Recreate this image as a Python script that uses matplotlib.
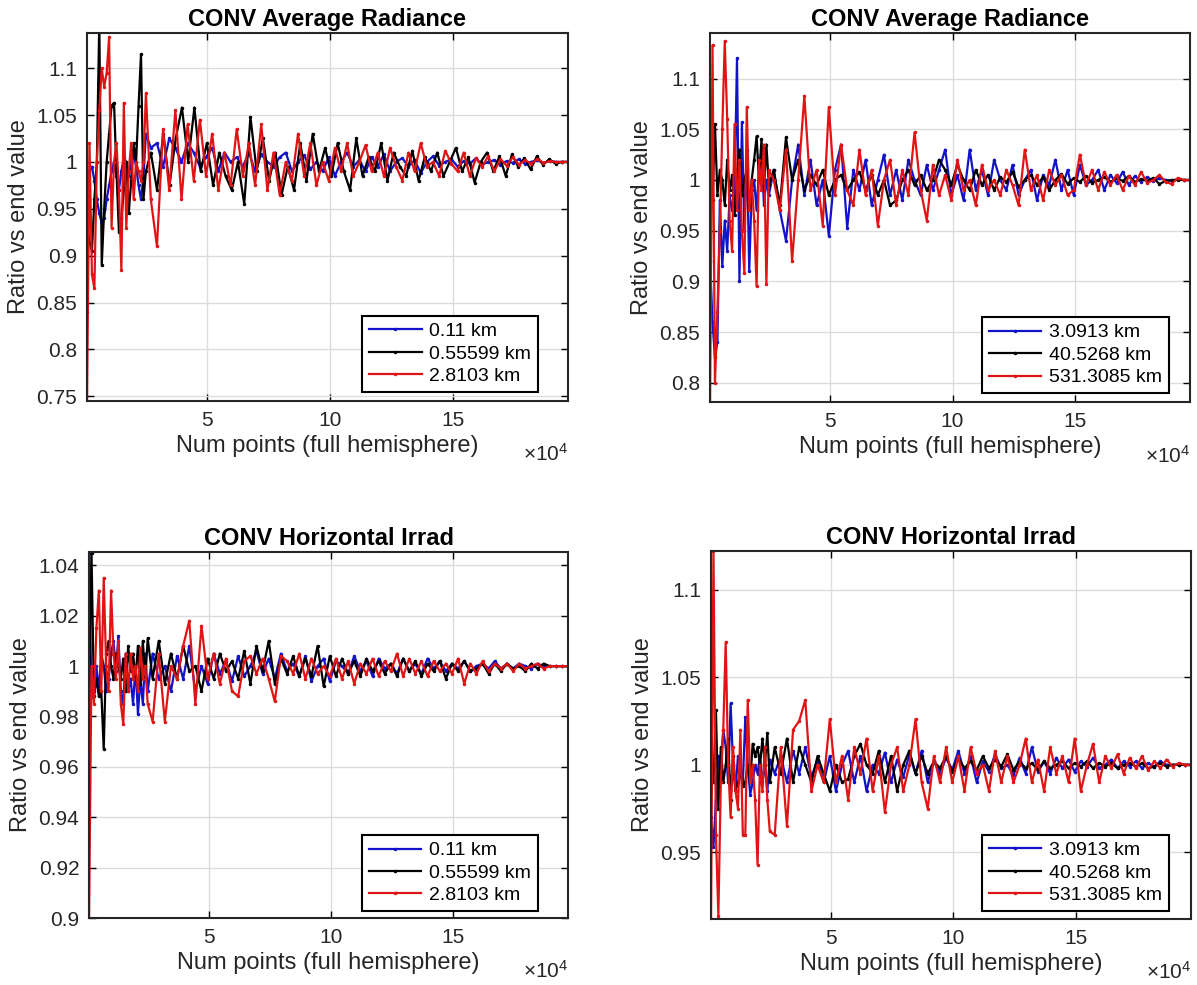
import numpy as np
import matplotlib
matplotlib.use('Agg')
import matplotlib.pyplot as plt

plt.rcParams['font.family'] = ['Liberation Sans', 'DejaVu Sans']
plt.rcParams['mathtext.default'] = 'regular'

# x grid: number of points (full hemisphere)
x_early = np.arange(1000, 25001, 1000)

# ---- top left: CONV Average Radiance, low altitudes ----
tl_labels = ['0.11 km', '0.55599 km', '2.8103 km']
tl_blue = [0.84, 0.99, 0.995, 0.98, 0.96, 0.945, 0.935, 0.94, 0.96, 0.975, 0.99, 1.0, 0.985,
           0.97, 0.99, 1.005, 1.0, 0.985, 1.0, 1.01, 0.995, 0.975, 0.96, 0.985, 1.03,
           1.015, 1.02, 0.995, 1.025, 1.015, 1.0, 1.02, 1.01, 0.995, 1.005, 1.015, 0.99, 1.01, 1.0,
           1.005, 0.995, 1.01, 0.99, 1.008, 1.0, 0.995, 1.005, 1.01, 0.99, 1.0, 1.007, 0.992, 1.0,
           0.99, 1.005, 0.985, 1.0, 1.01, 0.995, 1.002, 0.99, 1.005, 0.995, 1.008, 0.99, 1.0, 1.004,
           0.995, 1.002, 0.988, 1.0, 1.006, 0.996, 1.0, 1.003, 0.995, 1.001, 0.998, 1.004, 0.997, 1.0,
           1.002, 0.997, 1.001, 0.999, 1.003, 0.998, 1.0, 1.002, 0.999, 1.001, 1.0, 1.0, 1.0]
tl_black = [0.93, 0.915, 0.905, 0.96, 1.0, 1.15, 0.89, 0.95, 1.0, 1.03, 1.06, 1.063, 0.99,
            0.925, 0.94, 0.97, 1.0, 0.945, 0.98, 1.02, 1.0, 1.06, 1.115, 0.96, 0.99,
            1.01, 0.97, 1.03, 0.975, 1.025, 1.058, 1.0, 1.058, 0.99, 1.02, 0.975, 1.01, 0.985, 0.97,
            1.0, 0.955, 1.048, 0.99, 1.025, 0.98, 1.01, 0.965, 0.995, 0.97, 1.02, 0.98, 1.03, 0.99,
            1.015, 0.985, 1.02, 0.99, 0.97, 1.025, 0.985, 1.005, 0.99, 1.02, 0.98, 1.01, 0.995, 0.985,
            1.012, 0.98, 1.005, 0.99, 1.01, 0.985, 1.0, 1.015, 0.99, 1.005, 0.978, 1.0, 1.01, 0.99,
            1.006, 0.985, 1.008, 0.995, 1.004, 0.992, 1.006, 0.997, 1.003, 0.998, 1.0, 1.0]
tl_red = [0.745, 1.02, 0.88, 0.865, 1.0, 1.055, 1.1, 1.08, 1.095, 1.133, 0.93, 1.0, 1.02,
          0.97, 0.885, 1.063, 0.93, 0.99, 1.02, 0.96, 1.0, 0.99, 0.98, 1.0, 1.073,
          0.96, 0.91, 1.035, 0.97, 1.055, 0.96, 1.04, 0.98, 1.045, 0.985, 1.03, 0.97, 1.01, 0.975,
          1.035, 0.985, 1.02, 0.975, 1.04, 0.97, 1.01, 0.965, 1.0, 0.98, 1.03, 0.985, 1.02, 0.975,
          1.0, 0.98, 1.015, 0.99, 1.02, 0.985, 1.0, 1.018, 0.99, 1.01, 0.985, 1.015, 0.995, 0.98,
          1.01, 0.99, 1.02, 0.995, 1.0, 0.985, 1.012, 0.998, 0.99, 1.01, 0.985, 1.004, 0.995, 1.006,
          0.99, 1.003, 0.996, 1.005, 0.997, 1.002, 0.998, 1.003, 0.999, 1.001, 1.0, 1.0, 1.0]

# ---- top right: CONV Average Radiance, high altitudes ----
tr_labels = ['3.0913 km', '40.5268 km', '531.3085 km']
tr_blue = [0.92, 0.86, 0.825, 0.84, 0.98, 0.915, 0.96, 0.93, 0.985, 0.97, 0.99, 1.12, 0.90,
           1.057, 0.95, 1.03, 0.91, 0.99, 1.0, 0.97, 1.01, 1.03, 0.975, 1.0, 0.985,
           1.01, 0.97, 0.94, 1.0, 1.035, 0.985, 1.02, 0.975, 1.0, 0.945, 1.01, 1.035, 0.953, 1.01,
           0.99, 1.02, 0.975, 1.0, 1.025, 0.985, 1.01, 0.98, 1.02, 1.0, 0.985, 1.015, 0.99, 1.01,
           1.03, 0.985, 1.005, 0.98, 1.03, 0.99, 1.01, 0.985, 1.02, 1.0, 0.99, 1.015, 0.985, 1.0,
           1.01, 0.98, 1.005, 0.995, 1.02, 0.99, 1.01, 0.985, 1.015, 0.995, 1.0, 1.01, 0.99, 1.005,
           0.997, 1.008, 0.995, 1.004, 0.998, 1.003, 0.999, 1.002, 1.0, 0.999, 1.001, 1.0, 1.0]
tr_black = [1.0, 0.98, 1.055, 0.985, 1.01, 1.0, 0.975, 1.02, 0.99, 1.005, 0.965, 1.0, 1.03,
            0.985, 1.0, 1.01, 0.975, 1.0, 1.02, 1.043, 1.0, 1.04, 0.99, 1.035, 0.995,
            1.01, 0.975, 1.042, 1.0, 1.02, 0.99, 1.005, 0.995, 1.01, 0.985, 1.0, 1.005, 0.99, 1.0,
            1.008, 0.99, 1.005, 0.985, 1.0, 0.975, 0.98, 1.0, 1.01, 0.995, 1.005, 0.99, 1.0, 1.02,
            1.01, 0.995, 1.015, 1.0, 0.99, 1.01, 0.995, 1.005, 0.99, 1.003, 0.998, 1.008, 0.993, 1.0,
            1.005, 0.995, 1.003, 0.99, 1.0, 1.006, 0.996, 1.002, 0.998, 1.004, 0.997, 1.0, 1.003, 0.998,
            1.002, 0.999, 1.004, 0.998, 1.001, 0.999, 1.002, 0.996, 0.999, 1.0, 1.0, 1.0, 1.0]
tr_red = [0.78, 1.133, 0.80, 0.87, 0.95, 1.05, 1.137, 1.06, 0.96, 0.93, 1.055, 0.97, 1.02,
          0.95, 0.908, 1.072, 0.97, 1.0, 0.96, 0.895, 1.02, 0.99, 1.035, 0.897, 1.01,
          1.0, 0.97, 1.03, 0.92, 1.0, 1.083, 0.99, 1.01, 0.955, 1.072, 0.985, 1.035, 0.99, 0.975,
          1.03, 0.985, 1.01, 0.955, 1.0, 1.02, 0.975, 1.01, 0.985, 1.047, 0.99, 0.96, 1.015, 0.985,
          1.005, 0.98, 1.02, 0.99, 1.0, 0.975, 1.015, 0.99, 1.0, 0.985, 1.01, 0.995, 0.975, 1.03,
          0.99, 1.005, 0.98, 1.01, 0.995, 1.005, 0.985, 0.99, 1.025, 0.995, 1.01, 0.99, 1.008, 0.995,
          1.005, 0.99, 1.004, 0.995, 1.008, 0.997, 1.0, 1.005, 0.998, 0.996, 1.002, 1.0, 1.0]

# ---- bottom left: CONV Horizontal Irrad, low altitudes ----
bl_blue = [1.045, 0.988, 0.99, 1.0, 0.99, 1.005, 1.0, 0.99, 0.995, 1.005, 1.01, 0.998, 1.012,
           0.99, 0.985, 1.005, 0.99, 0.995, 0.985, 1.0, 0.981, 0.995, 0.985, 1.005, 0.99,
           1.005, 0.995, 1.0, 0.99, 1.004, 0.995, 1.008, 0.99, 1.0, 0.993, 1.005, 0.997, 1.002, 0.994,
           1.004, 0.996, 1.0, 1.006, 0.997, 1.003, 0.995, 1.005, 0.998, 1.001, 0.996, 1.004, 0.994, 1.0,
           1.003, 0.994, 1.002, 1.0, 0.997, 1.004, 0.998, 1.002, 0.996, 1.003, 0.999, 1.001, 0.997, 1.003,
           0.998, 1.001, 0.997, 1.003, 0.999, 1.002, 0.998, 1.001, 0.999, 1.002, 0.998, 1.0, 1.001, 0.999,
           1.002, 0.999, 1.001, 0.999, 1.001, 1.0, 0.999, 1.001, 1.0, 1.0, 1.0, 1.0, 1.0]
bl_black = [0.99, 1.045, 0.988, 0.995, 0.988, 0.99, 0.967, 1.005, 1.01, 1.0, 0.995, 1.005, 1.0,
            0.995, 1.003, 0.99, 1.008, 0.998, 1.005, 0.995, 1.008, 0.993, 1.01, 0.995, 1.011,
            0.995, 1.01, 0.993, 1.005, 0.995, 1.008, 0.998, 1.0, 0.99, 1.003, 0.995, 1.005, 0.998, 1.002,
            0.995, 1.006, 0.993, 1.008, 0.998, 1.01, 0.993, 1.003, 0.997, 1.004, 0.996, 1.003, 0.996, 1.008,
            0.992, 1.004, 0.996, 1.003, 0.997, 1.002, 0.996, 1.003, 0.998, 1.002, 0.997, 1.001, 0.996, 1.003,
            0.998, 1.002, 0.996, 1.001, 0.998, 1.002, 0.995, 1.001, 0.998, 1.002, 0.998, 0.999, 1.001, 0.997,
            1.001, 0.998, 1.001, 0.999, 1.0, 0.998, 1.001, 0.999, 1.001, 1.0, 1.0, 1.0, 1.0]
bl_red = [0.9, 1.0, 0.985, 1.015, 1.03, 0.99, 1.035, 1.0, 0.99, 1.03, 1.005, 0.995, 1.01,
          0.985, 0.977, 1.005, 0.99, 1.005, 0.995, 1.0, 0.99, 1.007, 0.995, 1.0, 0.985,
          0.978, 1.005, 0.978, 1.0, 0.995, 1.008, 1.018, 0.985, 1.016, 0.995, 1.005, 0.993, 1.003, 0.99,
          0.988, 1.002, 1.004, 0.997, 1.003, 0.995, 0.986, 1.004, 1.002, 0.997, 1.005, 0.995, 1.003, 0.997,
          1.0, 0.996, 1.003, 0.995, 1.002, 0.993, 1.001, 0.997, 1.003, 0.996, 1.002, 0.998, 1.005, 0.996,
          1.003, 0.997, 1.002, 0.996, 1.002, 0.998, 1.001, 0.997, 1.003, 0.993, 1.001, 0.997, 1.002, 0.998,
          1.001, 0.999, 1.001, 0.998, 1.001, 0.999, 1.0, 1.001, 0.999, 1.0, 1.0, 1.0, 1.0]

# ---- bottom right: CONV Horizontal Irrad, high altitudes ----
br_blue = [0.97, 0.953, 0.98, 1.005, 1.0, 1.02, 1.01, 0.99, 1.035, 1.0, 0.985, 1.005, 1.0,
           0.99, 1.027, 1.0, 0.983, 0.99, 1.0, 0.995, 1.005, 0.99, 1.0, 0.985, 1.003,
           0.995, 1.005, 0.99, 1.008, 0.995, 1.01, 0.993, 1.003, 0.99, 1.005, 0.985, 1.0, 1.008, 0.99,
           1.005, 0.985, 1.0, 0.995, 1.007, 0.99, 1.003, 0.993, 1.006, 0.995, 1.008, 0.99, 1.002, 0.995,
           1.004, 0.997, 1.008, 0.995, 1.005, 0.99, 1.002, 0.996, 1.006, 0.998, 1.0, 0.994, 1.004, 0.995,
           1.01, 0.996, 1.002, 0.995, 1.004, 0.998, 1.003, 0.996, 1.002, 0.999, 1.004, 0.998, 1.0, 1.003,
           0.998, 1.002, 0.999, 1.002, 0.998, 1.001, 0.999, 1.002, 1.0, 1.0, 1.0, 1.0, 1.0]
br_black = [1.0, 0.99, 1.031, 0.975, 1.01, 0.99, 1.0, 1.015, 0.98, 1.005, 0.985, 0.99, 0.995,
            0.988, 0.99, 1.0, 0.99, 1.012, 1.005, 1.01, 1.0, 1.015, 1.0, 1.018, 0.99,
            1.01, 0.995, 1.015, 0.99, 1.01, 1.0, 0.99, 1.005, 0.995, 0.985, 1.0, 0.99, 0.992, 1.005,
            1.012, 1.0, 0.995, 1.008, 0.99, 1.005, 0.985, 1.0, 1.008, 0.995, 1.005, 0.995, 1.002, 0.998,
            1.005, 0.996, 1.004, 0.998, 1.002, 0.997, 1.005, 0.998, 1.003, 0.999, 1.006, 0.997, 1.002, 0.998,
            1.001, 0.997, 1.002, 0.998, 1.0, 1.002, 0.998, 1.001, 0.999, 1.002, 0.998, 1.001, 0.999, 1.001,
            0.998, 1.0, 1.001, 0.999, 1.001, 0.998, 0.999, 1.001, 0.999, 1.0, 1.0, 1.0, 1.0]
br_red = [0.912, 1.122, 0.96, 0.914, 0.99, 1.02, 1.07, 1.0, 0.97, 1.01, 0.985, 0.975, 1.02,
          0.96, 0.96, 1.037, 0.99, 1.0, 0.98, 0.943, 1.0, 0.985, 1.01, 0.98, 0.962,
          0.96, 1.01, 0.965, 1.02, 1.025, 1.037, 0.985, 1.0, 0.99, 1.026, 0.99, 1.005, 0.98, 1.01,
          0.995, 1.015, 0.985, 1.005, 0.973, 1.0, 1.01, 0.985, 1.0, 1.026, 0.99, 0.975, 1.005, 0.99,
          1.01, 0.99, 1.005, 0.985, 1.01, 0.995, 1.0, 0.985, 1.008, 0.99, 1.005, 0.99, 1.0, 1.015,
          0.99, 1.003, 0.985, 1.01, 0.995, 1.005, 0.99, 1.015, 0.985, 1.0, 1.012, 0.99, 1.005, 0.998,
          1.006, 0.995, 1.004, 0.998, 1.005, 0.997, 1.002, 0.998, 1.003, 0.999, 1.001, 1.0, 1.0]

bl_labels = tl_labels
br_labels = tr_labels

colors = ['#1212c8', '#000000', '#e01414']


def xgrid(series):
    # first 25 points every 1000, the rest evenly up to 197000
    n_rest = len(series) - len(x_early)
    return np.concatenate([x_early, np.linspace(27000, 197000, n_rest)])


panels = [
    # rect, title, series, labels, ylim, yticks, legend anchor
    ([0.0727, 0.5929, 0.4018, 0.3736], 'CONV Average Radiance', [tl_blue, tl_black, tl_red], tl_labels,
     (0.745, 1.1375), [0.75, 0.8, 0.85, 0.9, 0.95, 1.0, 1.05, 1.1], (0.9376, 0.0245)),
    ([0.5932, 0.5919, 0.4010, 0.3746], 'CONV Average Radiance', [tr_blue, tr_black, tr_red], tr_labels,
     (0.781, 1.145), [0.8, 0.85, 0.9, 0.95, 1.0, 1.05, 1.1], (0.956, 0.024)),
    ([0.0744, 0.0680, 0.4002, 0.3716], 'CONV Horizontal Irrad', [bl_blue, bl_black, bl_red], bl_labels,
     (0.9, 1.0453), [0.9, 0.92, 0.94, 0.96, 0.98, 1.0, 1.02, 1.04], (0.937, 0.019)),
    ([0.5940, 0.0670, 0.4010, 0.3736], 'CONV Horizontal Irrad', [br_blue, br_black, br_red], br_labels,
     (0.912, 1.122), [0.95, 1.0, 1.05, 1.1], (0.954, 0.022)),
]

fig = plt.figure(figsize=(11.97, 9.85), dpi=100)

for rect, title, series, labels, ylim, yticks, anchor in panels:
    ax = fig.add_axes(rect)
    for ys, c, lab in zip(series, colors, labels):
        ax.plot(xgrid(ys), ys, color=c, lw=1.6, marker='.', ms=3, label=lab)
    ax.set_xlim(1000, 197000)
    ax.set_ylim(*ylim)
    ax.set_xticks([50000, 100000, 150000])
    ax.set_xticklabels(['5', '10', '15'])
    ax.set_yticks(yticks)
    ax.set_yticklabels(['%g' % v for v in yticks])
    ax.grid(True, color='#dcdcdc', lw=1)
    ax.set_axisbelow(True)
    ax.tick_params(direction='in', top=True, right=True, length=5, width=1,
                   labelsize=15, labelcolor='#262626', pad=7)
    for s in ax.spines.values():
        s.set_linewidth(1.5)
        s.set_color('#262626')
    ax.set_title(title, fontsize=17, fontweight='bold', pad=5)
    ax.set_xlabel('Num points (full hemisphere)', fontsize=17, color='#262626', labelpad=4)
    ax.set_ylabel('Ratio vs end value', fontsize=17, color='#262626', labelpad=5)
    ax.text(1.0, -0.115, '×10$^{4}$', transform=ax.transAxes, ha='right', va='top',
            fontsize=15, color='#262626')
    leg = ax.legend(loc='lower right', bbox_to_anchor=anchor, borderaxespad=0, fontsize=14,
                    fancybox=False, framealpha=1, edgecolor='#000000', handlelength=2.7,
                    handletextpad=0.4, labelspacing=0.25, borderpad=0.35)
    leg.get_frame().set_linewidth(1.5)

fig.savefig('out.png', dpi=100)
